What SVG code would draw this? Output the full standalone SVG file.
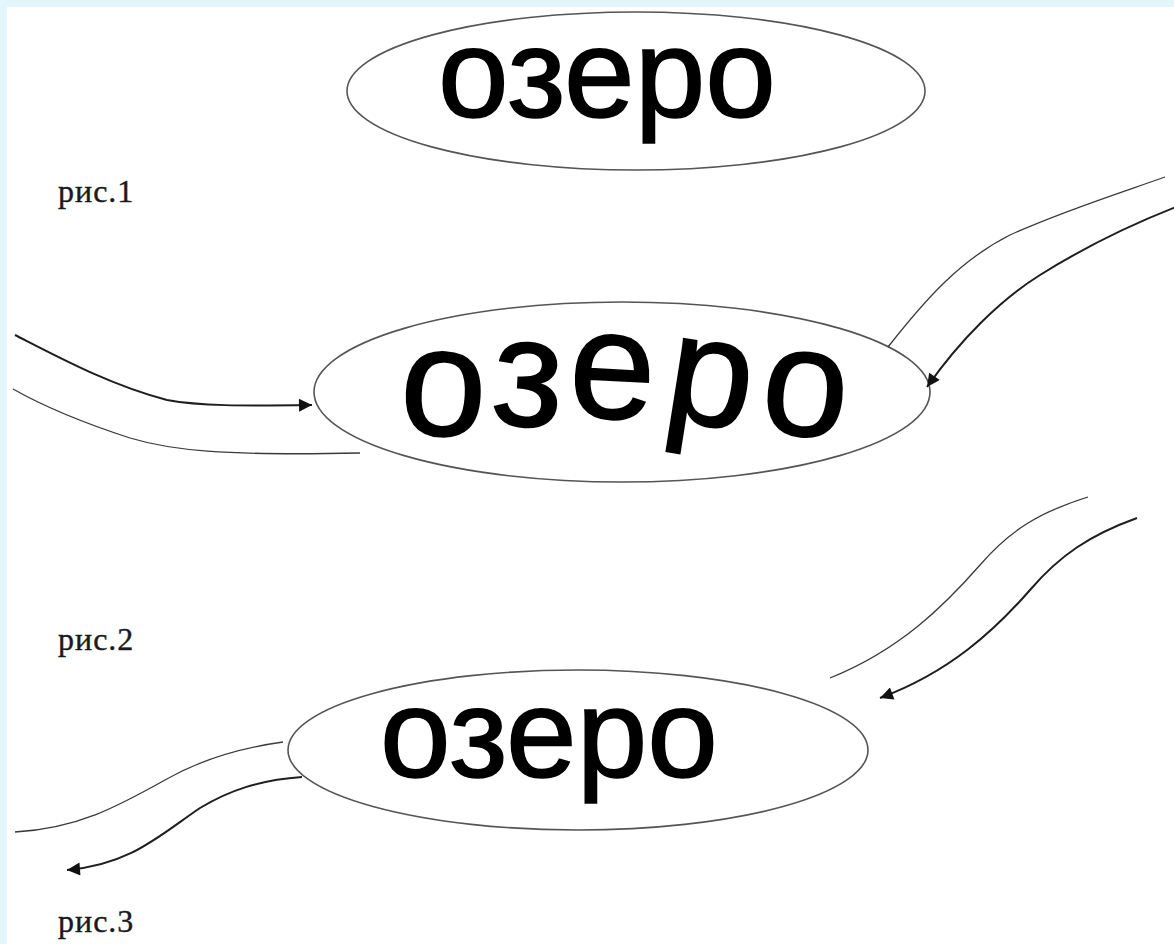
<svg xmlns="http://www.w3.org/2000/svg" width="1174" height="944" viewBox="0 0 1174 944">
<style>
.bg{fill:#e4f5fc}
.node{fill:#ffffff;stroke:#555;stroke-width:1.6}
.word{font-family:"Liberation Sans",Arial,sans-serif;fill:#000;stroke:#000;stroke-width:1.6}
.lbl{font-family:"Liberation Serif","Times New Roman",serif;font-size:32px;letter-spacing:1px;fill:#1a1a1a;stroke:#1a1a1a;stroke-width:0.4}
.thick{fill:none;stroke:#1e1e1e;stroke-width:2}
.thin{fill:none;stroke:#3a3a3a;stroke-width:1.3}
</style>
<defs>
<marker id="arr" viewBox="0 0 10 10" refX="10" refY="5" markerUnits="userSpaceOnUse" markerWidth="14" markerHeight="13" orient="auto">
<path d="M0,0 L10,5 L0,10 z" fill="#111"/>
</marker>
</defs>
<rect class="bg" x="0" y="0" width="1174" height="944"/>
<rect x="7" y="7" width="1167" height="937" fill="#ffffff"/>

<g id="labels">
<text class="lbl" x="58" y="202">рис.1</text>
<text class="lbl" x="58" y="650">рис.2</text>
<text class="lbl" x="58" y="932">рис.3</text>
</g>

<g id="node-top">
<ellipse class="node" cx="636" cy="91" rx="289" ry="79"/>
<text class="word" x="438" y="117" font-size="127">озеро</text>
</g>

<g id="node-middle">
<ellipse class="node" cx="622" cy="392" rx="308" ry="90"/>
<text class="word" font-size="155"><tspan x="398" y="433" rotate="3">о</tspan><tspan x="490" y="424" rotate="3">з</tspan><tspan x="567" y="416" rotate="3">е</tspan><tspan x="661" y="418" rotate="9">р</tspan><tspan x="758" y="431" rotate="6">о</tspan></text>
</g>

<g id="node-bottom">
<ellipse class="node" cx="578" cy="750" rx="290" ry="80"/>
<text class="word" x="380" y="777" font-size="127">озеро</text>
</g>

<g id="connectors">
<path class="thick" d="M15,335 C60,358 110,385 167,400 C200,406 240,406 312,405" marker-end="url(#arr)"/>
<path class="thin" d="M13,389 C50,410 90,425 130,438 C170,450 220,456 360,453"/>
<path class="thin" d="M1165,177 C1120,193 1060,212 1010,235 C960,260 925,300 888,347"/>
<path class="thick" d="M1176,207 C1130,225 1080,250 1040,275 C1000,300 960,340 927,387" marker-end="url(#arr)"/>
<path class="thin" d="M1088,497 C1040,512 1010,530 980,565 C945,605 900,650 830,678"/>
<path class="thick" d="M1137,518 C1090,535 1060,555 1030,590 C995,630 950,672 880,698" marker-end="url(#arr)"/>
<path class="thin" d="M283,742 C240,748 200,760 165,780 C120,805 80,828 15,832"/>
<path class="thick" d="M302,777 C260,780 230,790 200,808 C160,835 130,865 67,870" marker-end="url(#arr)"/>
</g>
</svg>
